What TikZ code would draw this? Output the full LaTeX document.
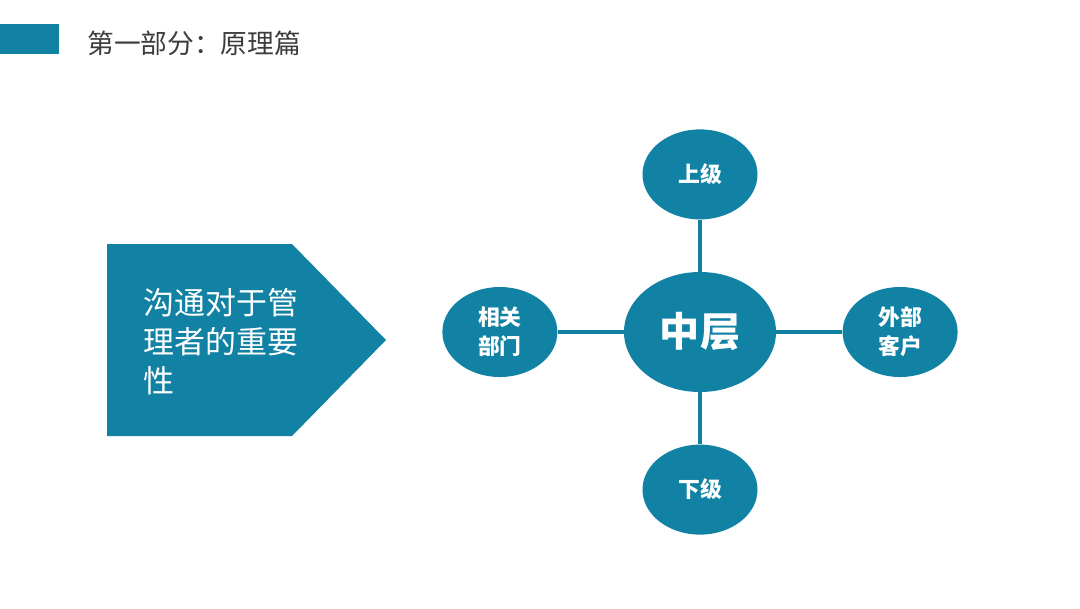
\documentclass[tikz,border=0pt]{standalone}
\usepackage{fontspec}
\setmainfont{Noto Sans CJK SC}
\usepackage{tikz}
\usetikzlibrary{shapes.geometric,positioning}
\definecolor{tealblue}{RGB}{17,130,164}
\definecolor{titlegray}{RGB}{60,60,60}
\tikzset{
  hub/.style={ellipse,fill=tealblue,text=white,inner sep=0pt,
              minimum width=3.8cm,minimum height=3cm,font=\fontsize{28.5}{30}\selectfont\bfseries},
  sat/.style={ellipse,fill=tealblue,text=white,align=center,inner sep=0pt,
              minimum width=2.875cm,minimum height=2.25cm,font=\fontsize{15.5}{20.5}\selectfont\bfseries},
  link/.style={draw=tealblue,line width=2.5pt},
}

\begin{document}
\begin{tikzpicture}[x=0.025cm,y=-0.025cm,node distance=1.3cm and 1.65cm]
  \useasboundingbox (0,0) rectangle (1080,608);
  \fill[tealblue] (0,24) rectangle (59,54);
  \node[anchor=west,inner sep=0pt,text=titlegray,font=\fontsize{19}{22}\selectfont] (title) at (87,43) {第一部分：原理篇};
  \fill[tealblue] (107,244) -- (292,244) -- (386,340) -- (292,436) -- (107,436) -- cycle;
  \node[anchor=west,align=left,inner sep=0pt,text=white,font=\fontsize{22}{27.7}\selectfont] (topic) at (143,342) {沟通对于管\\理者的重要\\性};
  \node[hub] (mid) at (700,332) {中层};
  \node[sat,above=of mid] (up) {上级};
  \node[sat,below=of mid] (down) {下级};
  \node[sat,left=of mid] (dept) {相关\\部门};
  \node[sat,right=of mid] (client) {外部\\客户};
  \draw[link] (mid) -- (up);
  \draw[link] (mid) -- (down);
  \draw[link] (mid) -- (dept);
  \draw[link] (mid) -- (client);
\end{tikzpicture}
\end{document}
